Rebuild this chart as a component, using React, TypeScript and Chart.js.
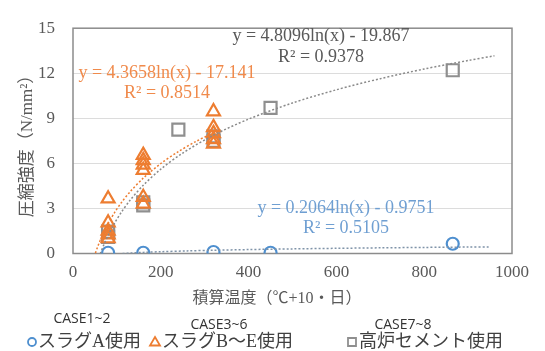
import { useEffect, useRef } from 'react';
import { Chart, registerables } from 'chart.js';

Chart.register(...registerables);

// ---- data ----
const slagAX = [80, 160, 320, 450, 865];
const slagAY = [0.05, 0.05, 0.1, 0.05, 0.65];

const slagBEX = [80, 80, 80, 80, 80, 160, 160, 160, 160, 160, 160, 320, 320, 320, 320, 320];
const slagBEY = [3.65, 2.05, 1.5, 1.25, 1.0, 6.55, 6.2, 5.9, 5.55, 3.75, 3.3, 9.45, 8.4, 8.0, 7.6, 7.3];

const bfX = [80, 80, 160, 160, 240, 320, 320, 450, 865];
const bfY = [1.45, 1.1, 3.4, 3.2, 8.25, 7.8, 7.5, 9.7, 12.2];

// trendline coefficients (y = a ln(x) + b), as printed on the chart
const trendCoefA = [0.2064, -0.9751];
const trendCoefBE = [4.3658, -17.141];
const trendCoefBF = [4.8096, -19.867];
const trendXA = [113, 130, 160, 200, 260, 320, 400, 500, 600, 700, 800, 900, 950];
const trendXBE = [51, 55, 60, 70, 80, 95, 110, 130, 160, 200, 240, 280, 330];
const trendXBF = [62, 66, 72, 80, 95, 110, 130, 160, 200, 250, 320, 400, 500, 600, 700, 800, 900, 960];

const eqTexts = ['y = 0.2064ln(x) - 0.9751', 'y = 4.3658ln(x) - 17.141', 'y = 4.8096ln(x) - 19.867'];
const r2Texts = ['R² = 0.5105', 'R² = 0.8514', 'R² = 0.9378'];
const legendNames = ['スラグA使用', 'スラグB〜E使用', '高炉セメント使用'];
const caseNames = ['CASE1~2', 'CASE3~6', 'CASE7~8'];
const yTicks = [0, 3, 6, 9, 12, 15];
const xTicks = [0, 200, 400, 600, 800, 1000];
const xTitle = '積算温度（℃+10・日）';
const yTitle = '圧縮強度（N/mm²）';

const BLUE = '#4e8fcf';
const ORANGE = '#ed7d31';
const GRAY = '#8f8f8f';
const TXT = '#595959';

const pts = (xs: number[], ys: number[]) => xs.map((x, i) => ({ x, y: ys[i] }));
const trend = (xs: number[], c: number[]) => xs.map((x) => ({ x, y: c[0] * Math.log(x) + c[1] }));

const SERIF = '"Liberation Serif", "Noto Sans CJK JP", serif';

const overlay = {
  id: 'overlay',
  beforeDatasetsDraw(chart: any) {
    const { ctx, chartArea: a } = chart;
    ctx.save();
    ctx.strokeStyle = '#8c8c8c';
    ctx.lineWidth = 1.5;
    ctx.strokeRect(a.left, a.top, a.right - a.left, a.bottom - a.top);
    ctx.restore();
  },
  afterDraw(chart: any) {
    const { ctx } = chart;
    ctx.save();
    ctx.textAlign = 'center';
    ctx.textBaseline = 'middle';
    // equations
    ctx.font = `18px ${SERIF}`;
    const eqPos = [
      [346, 208, 228, '#6f9fd2'],
      [167, 73, 93, '#f08a4b'],
      [321, 36, 57, '#595959'],
    ];
    eqPos.forEach((p, i) => {
      ctx.fillStyle = p[3] as string;
      ctx.fillText(eqTexts[i], p[0] as number, p[1] as number);
      ctx.fillText(r2Texts[i], p[0] as number, p[2] as number);
    });
    // axis titles
    ctx.fillStyle = TXT;
    ctx.font = `16px ${SERIF}`;
    ctx.fillText(xTitle, 277, 299);
    ctx.save();
    ctx.font = `17px ${SERIF}`;
    ctx.translate(28, 142);
    ctx.rotate(-Math.PI / 2);
    ctx.fillText(yTitle, 0, 0);
    ctx.restore();
    // legend
    const markX = [32, 155, 352];
    const textX = [38, 162, 359];
    const ly = 342;
    const cols = [BLUE, ORANGE, GRAY];
    ctx.lineWidth = 1.8;
    markX.forEach((mx, i) => {
      ctx.strokeStyle = cols[i];
      ctx.beginPath();
      if (i === 0) ctx.arc(mx, ly, 4, 0, Math.PI * 2);
      else if (i === 1) {
        ctx.moveTo(mx, ly - 5);
        ctx.lineTo(mx + 5, ly + 3.5);
        ctx.lineTo(mx - 5, ly + 3.5);
        ctx.closePath();
      } else ctx.rect(mx - 4, ly - 4, 8, 8);
      ctx.stroke();
    });
    ctx.textAlign = 'left';
    ctx.fillStyle = '#404040';
    ctx.font = `18px ${SERIF}`;
    legendNames.forEach((t, i) => ctx.fillText(t, textX[i], ly));
    ctx.textAlign = 'center';
    ctx.fillStyle = '#333333';
    ctx.font = '14px "Open Sans", sans-serif';
    const caseX = [82, 219, 403];
    const caseY = [319, 325, 325];
    caseNames.forEach((t, i) => ctx.fillText(t, caseX[i], caseY[i]));
    ctx.restore();
  },
};

export default function App() {
  const ref = useRef<HTMLCanvasElement>(null);
  useEffect(() => {
    if (!ref.current) return;
    const dotted = { borderWidth: 1.5, borderDash: [2, 2], pointRadius: 0, showLine: true, fill: false, tension: 0.3 };
    const chart = new Chart(ref.current, {
      type: 'scatter',
      data: {
        datasets: [
          { label: 'trendA', data: trend(trendXA, trendCoefA), borderColor: '#7f93a8', ...dotted },
          { label: 'trendBE', data: trend(trendXBE, trendCoefBE), borderColor: ORANGE, ...dotted },
          { label: 'trendBF', data: trend(trendXBF, trendCoefBF), borderColor: '#8a8a8a', ...dotted },
          { label: legendNames[0], data: pts(slagAX, slagAY), pointStyle: 'circle', pointRadius: 6, borderColor: BLUE, backgroundColor: 'rgba(0,0,0,0)', pointBorderWidth: 2.2 },
          { label: legendNames[1], data: pts(slagBEX, slagBEY), pointStyle: 'triangle', pointRadius: 7.5, borderColor: ORANGE, backgroundColor: 'rgba(0,0,0,0)', pointBorderWidth: 2.2 },
          { label: legendNames[2], data: pts(bfX, bfY), pointStyle: 'rect', pointRadius: 8.5, borderColor: GRAY, backgroundColor: 'rgba(0,0,0,0)', pointBorderWidth: 2.2 },
        ] as any,
      },
      options: {
        responsive: false,
        animation: false,
        layout: { padding: { left: 0, top: 20, right: 33, bottom: 0 } },
        plugins: { legend: { display: false }, tooltip: { enabled: false } },
        scales: {
          x: {
            type: 'linear',
            min: 0,
            max: 1000,
            afterBuildTicks: (s: any) => { s.ticks = xTicks.map((v) => ({ value: v })); },
            afterFit: (s: any) => { s.height = 97.5; },
            grid: { display: false, drawTicks: false },
            border: { display: false },
            ticks: { padding: 9, color: TXT, font: { family: SERIF, size: 17 }, callback: (v: any) => String(v) },
          },
          y: {
            type: 'linear',
            min: 0,
            max: 15,
            afterBuildTicks: (s: any) => { s.ticks = yTicks.map((v) => ({ value: v })); },
            afterFit: (s: any) => { s.width = 73; },
            grid: { color: '#dcdcdc', lineWidth: 1, drawTicks: false },
            border: { display: false },
            ticks: { padding: 18, color: TXT, font: { family: SERIF, size: 17 }, callback: (v: any) => String(v) },
          },
        },
      } as any,
      plugins: [overlay],
    });
    return () => chart.destroy();
  }, []);
  return (
    <div style={{ position: 'absolute', left: 0, top: 0, width: 545, height: 351, background: '#fff' }}>
      <canvas ref={ref} width={545} height={351} />
    </div>
  );
}
